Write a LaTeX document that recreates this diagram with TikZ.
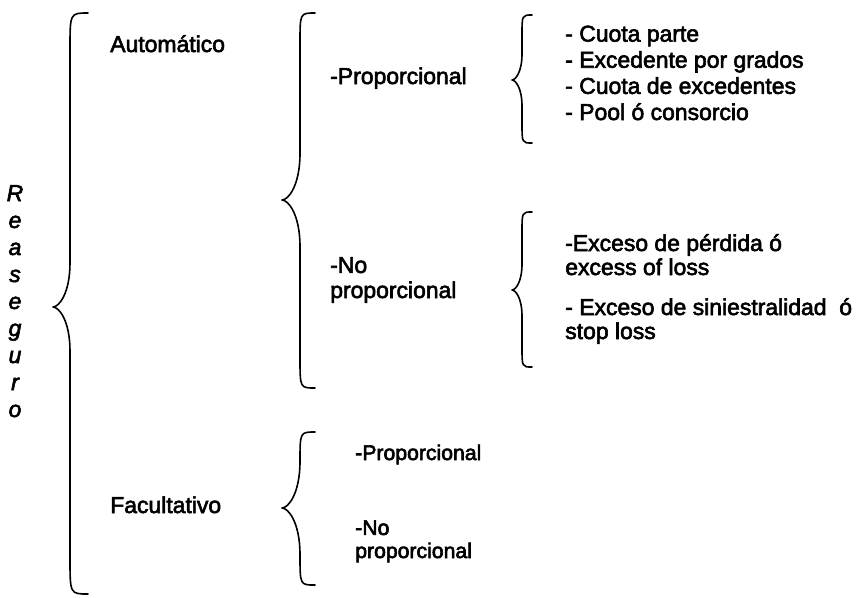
\documentclass[tikz,border=0pt]{standalone}
\usepackage{fontspec}
\setmainfont{Liberation Sans}
\usepackage{tikz}
\usetikzlibrary{positioning, calc}
\usepackage{xcolor}
\newcommand{\grueso}{\special{pdf:literal 2 Tr 0.45 w}}
\tikzset{
    texto/.style = {anchor=base west, inner sep=0pt, align=left, font=\fontsize{17.2}{18}\selectfont\grueso},
    lista/.style = {texto, font=\fontsize{17.2}{19.6}\selectfont\grueso},
    chico/.style = {texto, font=\fontsize{15.9}{17.3}\selectfont\grueso},
    letra/.style = {anchor=base, inner sep=0pt, font=\fontsize{17.2}{18}\selectfont\itshape\grueso},
    llave/.style = {line width=1.2pt, line cap=round, line join=round}
}
% #1 x end, #2 x line, #3 x tip, #4 y top, #5 y tip, #6 y bottom
\newcommand{\llave}[6]{%
  \draw[llave] (#1,#4) .. controls (#2,#4) .. (#2,{#4+2*(#1-#2)})
    -- (#2,{#5-2.6*(#2-#3)})
    .. controls (#2,{#5-0.8*(#2-#3)}) and ({#3+0.35*(#2-#3)},#5) .. (#3,#5)
    .. controls ({#3+0.35*(#2-#3)},#5) and (#2,{#5+0.8*(#2-#3)}) .. (#2,{#5+2.6*(#2-#3)})
    -- (#2,{#6-2*(#1-#2)}) .. controls (#2,#6) .. (#1,#6);}

\begin{document}
\begin{tikzpicture}[x=0.75pt, y=-0.75pt]
\useasboundingbox (0,0) rectangle (863,597);

\foreach \l [count=\i from 0] in {R,e,a,s,e,g,u,r,o}
  \node[letra] (l\i) at (15,{201+27*\i}) {\l};

\llave{88}{70}{53}{13}{307}{594}

\node[texto] (auto) at (110,52) {Automático};
\node[texto] (facul) at (110,513) {Facultativo};

\llave{315}{300}{282}{13}{200}{388}

\node[texto] (prop) at (330,84) {-Proporcional};
\node[texto, font=\fontsize{17.2}{18.8}\selectfont\grueso] (noprop) at (330,298) {-No\\proporcional};

\llave{532}{522}{512}{15}{80}{143}

\node[lista] (cuota) at (565,120) {- Cuota parte\\- Excedente por grados\\- Cuota de excedentes\\- Pool ó consorcio};

\llave{532}{522}{512}{212}{290}{367}

\node[texto] (perdida) at (565,275) {-Exceso de pérdida ó\\excess of loss};
\node[texto] (sinies) at (565,339) {- Exceso de siniestralidad~ ó\\stop loss};

\llave{315}{300}{282}{432}{508}{585}

\node[chico] (fprop) at (355,460) {-Proporcional};
\node[chico] (fnoprop) at (355,558) {-No\\proporcional};

\end{tikzpicture}
\end{document}
